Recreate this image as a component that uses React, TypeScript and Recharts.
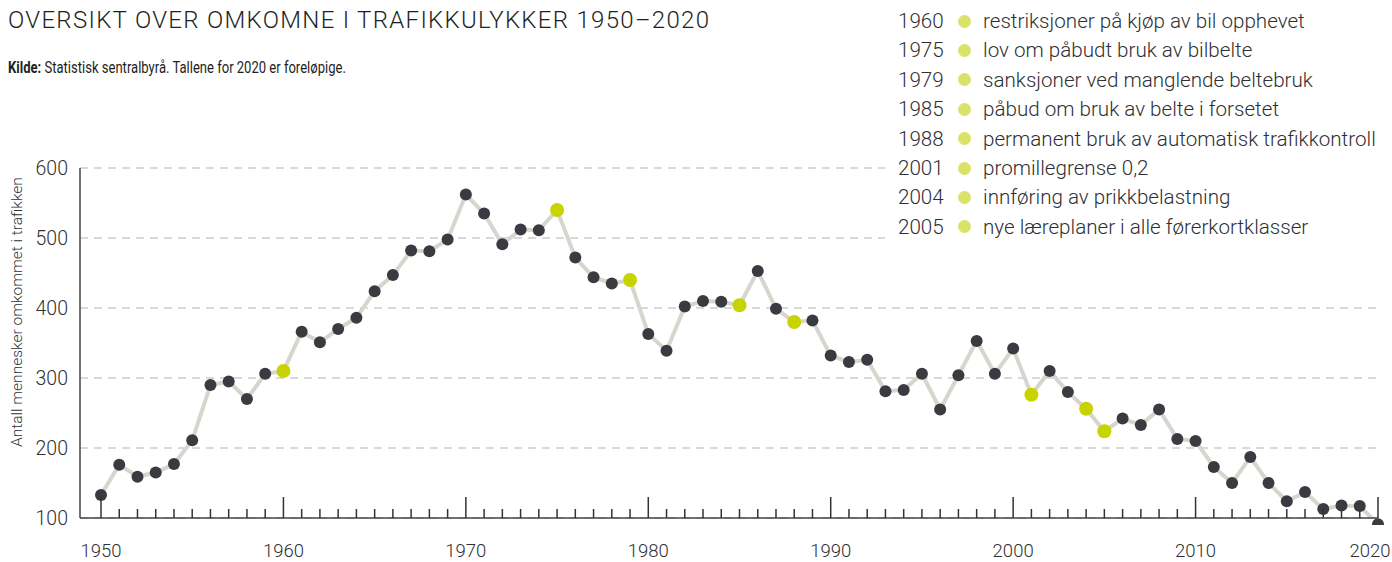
import React from 'react';
import {
  LineChart,
  Line,
  XAxis,
  YAxis,
  CartesianGrid,
} from 'recharts';

const years = [
  1950, 1951, 1952, 1953, 1954, 1955, 1956, 1957, 1958, 1959,
  1960, 1961, 1962, 1963, 1964, 1965, 1966, 1967, 1968, 1969,
  1970, 1971, 1972, 1973, 1974, 1975, 1976, 1977, 1978, 1979,
  1980, 1981, 1982, 1983, 1984, 1985, 1986, 1987, 1988, 1989,
  1990, 1991, 1992, 1993, 1994, 1995, 1996, 1997, 1998, 1999,
  2000, 2001, 2002, 2003, 2004, 2005, 2006, 2007, 2008, 2009,
  2010, 2011, 2012, 2013, 2014, 2015, 2016, 2017, 2018, 2019,
  2020,
];

const deaths = [
  133, 176, 159, 165, 177, 211, 290, 295, 270, 306,
  310, 366, 351, 370, 386, 424, 447, 482, 481, 498,
  562, 535, 491, 512, 511, 540, 472, 444, 435, 440,
  363, 339, 402, 410, 409, 404, 453, 399, 380, 382,
  332, 323, 326, 281, 283, 306, 255, 304, 353, 306,
  342, 276, 310, 280, 256, 224, 242, 233, 255, 213,
  210, 173, 150, 187, 150, 124, 137, 113, 118, 117,
  91,
];

const milestoneYears = [1960, 1975, 1979, 1985, 1988, 2001, 2004, 2005];
const milestoneLabels = [
  'restriksjoner på kjøp av bil opphevet',
  'lov om påbudt bruk av bilbelte',
  'sanksjoner ved manglende beltebruk',
  'påbud om bruk av belte i forsetet',
  'permanent bruk av automatisk trafikkontroll',
  'promillegrense 0,2',
  'innføring av prikkbelastning',
  'nye læreplaner i alle førerkortklasser',
];

const yTicks = [100, 200, 300, 400, 500, 600];

const data = years.map((year, i) => ({
  year,
  deaths: deaths[i],
  milestone: milestoneYears.includes(year) ? deaths[i] : null,
}));

const FONT = 'Roboto, sans-serif';
const TEXT = '#2f3034';

const XTick = (props: any) => {
  const { x, y, payload } = props;
  const yr = payload.value as number;
  const major = yr % 10 === 0;
  const h = major ? 21 : 9;
  // keep the last label inside the picture
  const lx = Math.min(x, 1370);
  return (
    <g>
      <line x1={x} x2={x} y1={y} y2={y - h} stroke="#333" strokeWidth={1.5} />
      {major && (
        <text
          x={lx}
          y={y + 39}
          textAnchor="middle"
          fontFamily={FONT}
          fontWeight={300}
          fontSize={18.5}
          fill={TEXT}
        >
          {yr}
        </text>
      )}
    </g>
  );
};

export default function App() {
  return (
    <div
      style={{
        position: 'absolute',
        left: 0,
        top: 0,
        width: 1392,
        height: 562,
        background: '#fff',
        overflow: 'hidden',
        fontFamily: FONT,
        color: TEXT,
      }}
    >
      <LineChart
        width={1392}
        height={562}
        data={data}
        margin={{ top: 168, right: 14, bottom: 0, left: 0 }}
      >
        <CartesianGrid
          vertical={false}
          stroke="#b4b4b4"
          strokeDasharray="8 6"
          strokeWidth={1.2}
        />
        <XAxis
          dataKey="year"
          type="number"
          domain={[1950, 2020]}
          ticks={years}
          interval={0}
          padding={{ left: 21, right: 0 }}
          height={44}
          tickSize={0}
          tickMargin={0}
          tickLine={false}
          axisLine={{ stroke: '#444', strokeWidth: 1.5 }}
          tick={<XTick />}
        />
        <YAxis
          type="number"
          domain={[100, 600]}
          ticks={yTicks}
          allowDataOverflow
          width={80}
          tickLine={false}
          tickSize={0}
          tickMargin={12}
          axisLine={{ stroke: '#444', strokeWidth: 1.5 }}
          tick={{
            fontFamily: FONT,
            fontWeight: 300,
            fontSize: 19.5,
            fill: TEXT,
          }}
        />
        <Line
          dataKey="deaths"
          type="linear"
          stroke="#d8d4ce"
          strokeWidth={4}
          dot={{ r: 6, fill: '#3a3b40', stroke: 'none', clipDot: false }}
          activeDot={false}
          isAnimationActive={false}
        />
        <Line
          dataKey="milestone"
          type="linear"
          stroke="none"
          dot={{ r: 7, fill: '#c8d400', stroke: 'none', clipDot: false }}
          activeDot={false}
          isAnimationActive={false}
        />
      </LineChart>

      <div
        style={{
          position: 'absolute',
          left: 8,
          top: 6,
          fontSize: 24,
          fontWeight: 300,
          letterSpacing: 1.3,
          lineHeight: '28px',
          whiteSpace: 'nowrap',
          color: '#1e1f22',
        }}
      >
        OVERSIKT OVER OMKOMNE I TRAFIKKULYKKER 1950–2020
      </div>
      <div
        style={{
          position: 'absolute',
          left: 8,
          top: 58,
          fontSize: 16,
          lineHeight: '20px',
          whiteSpace: 'nowrap',
          transform: 'scaleX(0.815)',
          transformOrigin: 'left center',
          color: '#1e1f22',
        }}
      >
        <span style={{ fontWeight: 700 }}>Kilde:</span> Statistisk sentralbyrå.
        Tallene for 2020 er foreløpige.
      </div>

      <div
        style={{
          position: 'absolute',
          left: 17,
          top: 312,
          transform: 'translate(-50%, -50%) rotate(-90deg)',
          fontSize: 15.5,
          fontWeight: 300,
          whiteSpace: 'nowrap',
        }}
      >
        Antall mennesker omkommet i trafikken
      </div>

      <div
        style={{
          position: 'absolute',
          left: 885,
          top: 0,
          width: 507,
          height: 244,
          background: '#fff',
        }}
      >
        {milestoneYears.map((yr, i) => (
          <div
            key={yr}
            style={{
              position: 'absolute',
              left: 0,
              top: 6 + i * 29.4,
              height: 30,
              width: 507,
              lineHeight: '30px',
              fontSize: 20.6,
              fontWeight: 300,
              whiteSpace: 'nowrap',
            }}
          >
            <span style={{ position: 'absolute', left: 13 }}>{yr}</span>
            <span
              style={{
                position: 'absolute',
                left: 72.5,
                top: 8.5,
                width: 13,
                height: 13,
                borderRadius: '50%',
                background: '#dbe26a',
              }}
            />
            <span style={{ position: 'absolute', left: 98 }}>
              {milestoneLabels[i]}
            </span>
          </div>
        ))}
      </div>
    </div>
  );
}
